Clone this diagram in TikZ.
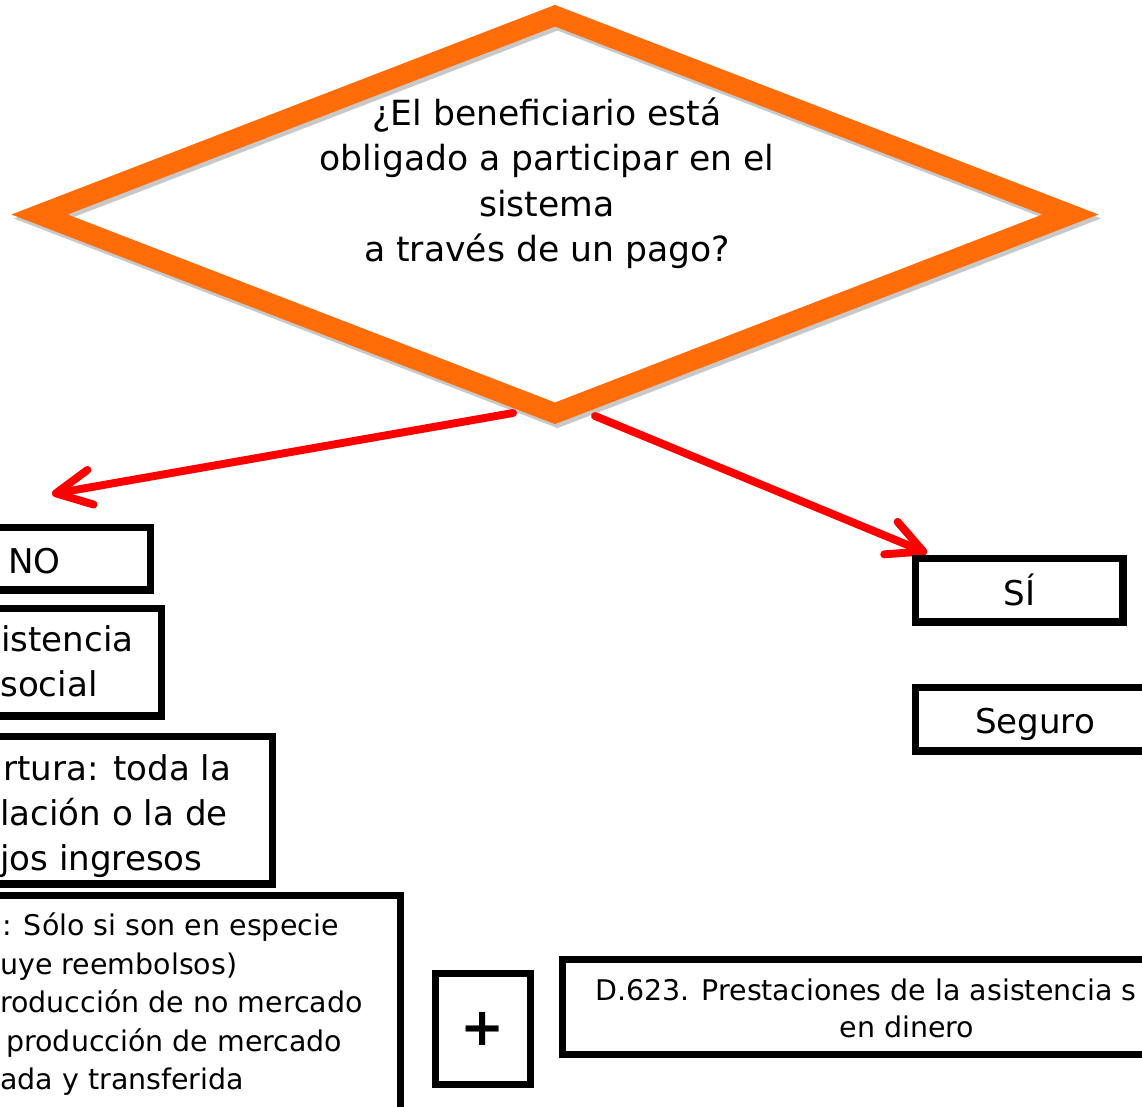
\documentclass[tikz,border=0pt]{standalone}
\usepackage{fontspec}
\setmainfont{DejaVu Sans}
\usetikzlibrary{arrows.meta,shapes.geometric}
\definecolor{dorange}{RGB}{255,108,8}
\definecolor{shadowgray}{RGB}{200,200,200}
\definecolor{arrowred}{RGB}{255,0,0}
\begin{document}
\begin{tikzpicture}[x=0.02cm,y=-0.02cm,
  box/.style={draw=black, line width=4pt, rectangle, inner sep=0pt},
  bigtxt/.style={font=\fontsize{19.4}{25.8}\selectfont, inner sep=0pt},
  smalltxt/.style={font=\fontsize{16.2}{21.8}\selectfont, inner sep=0pt},
  redarrow/.style={draw=arrowred, line width=4.5pt, line cap=round,
    -{Straight Barb[length=20pt,width=20pt,round]}},
  decision/.style={diamond, draw=dorange, line width=11.5pt, inner sep=0pt,
    preaction={draw=shadowgray, transform canvas={shift={(2.5,4)}}}}]
\useasboundingbox (0,0) rectangle (1142,1106);
\clip (0,0) rectangle (1142,1106);

% decision diamond
\node[decision, minimum width=20.79cm, minimum height=8.12cm] (dia) at (555,214.5) {};
\node[bigtxt, font=\fontsize{19.7}{25.8}\selectfont, anchor=base, align=center] (q) at (547,261.5)
  {¿El beneficiario está\\obligado a participar en el\\sistema\\a través de un pago?};

% connectors
\coordinate (nostart) at (513,413);
\coordinate (notip) at (52,494);
\coordinate (sistart) at (595,416);
\coordinate (sitip) at (927,553);
\draw[redarrow] (nostart) -- (notip);
\draw[redarrow] (sistart) -- (sitip);

% left column
\node[box, minimum width=5.02cm, minimum height=1.26cm] (no) at (25.5,558.5) {};
\node[bigtxt, anchor=base west] (notxt) at (8,573) {NO};

\node[box, minimum width=4.68cm, minimum height=2.15cm] (asis) at (45,662.25) {};
\node[bigtxt, anchor=base west] (asis1) at (1,651) {istencia};
\node[bigtxt, anchor=base west] (asis2) at (0,696) {social};

\node[box, minimum width=9.46cm, minimum height=2.96cm] (cob) at (36.25,810) {};
\node[bigtxt, anchor=base west] (cob1) at (3,780) {rtura: toda la};
\node[bigtxt, anchor=base west] (cob2) at (0,825) {lación o la de};
\node[bigtxt, anchor=base west] (cob3) at (0,870) {jos ingresos};

\node[box, minimum width=14.02cm, minimum height=4.6cm] (big) at (50.5,1010) {};
\node[smalltxt, anchor=base west] (big1) at (2,935) {: Sólo si son en especie};
\node[smalltxt, anchor=base west] (big2) at (0,974) {uye reembolsos)};
\node[smalltxt, anchor=base west] (big3) at (0,1012) {roducción de no mercado};
\node[smalltxt, anchor=base west] (big4) at (6,1051) {producción de mercado};
\node[smalltxt, anchor=base west] (big5) at (0,1089) {ada y transferida};

% plus and D.623
\node[box, minimum width=1.9cm, minimum height=2.22cm,
  font=\fontsize{30}{30}\bfseries\selectfont] (plus) at (483,1029) {+};
\node[box, minimum width=13.78cm, minimum height=1.9cm] (d623) at (907,1007) {};
\node[smalltxt, anchor=base west] (d1) at (595,1000) {D.623. Prestaciones de la asistencia s};
\node[smalltxt, anchor=base] (d2) at (907,1037) {en dinero};

% right column
\node[box, minimum width=4.15cm, minimum height=1.28cm,
  font=\fontsize{19.4}{25.8}\selectfont] (si) at (1019.25,590) {SÍ};
\node[box, minimum width=4.79cm, minimum height=1.28cm] (seg) at (1035.25,719) {};
\node[bigtxt, anchor=base] (segtxt) at (1035,733) {Seguro};
\end{tikzpicture}
\end{document}
